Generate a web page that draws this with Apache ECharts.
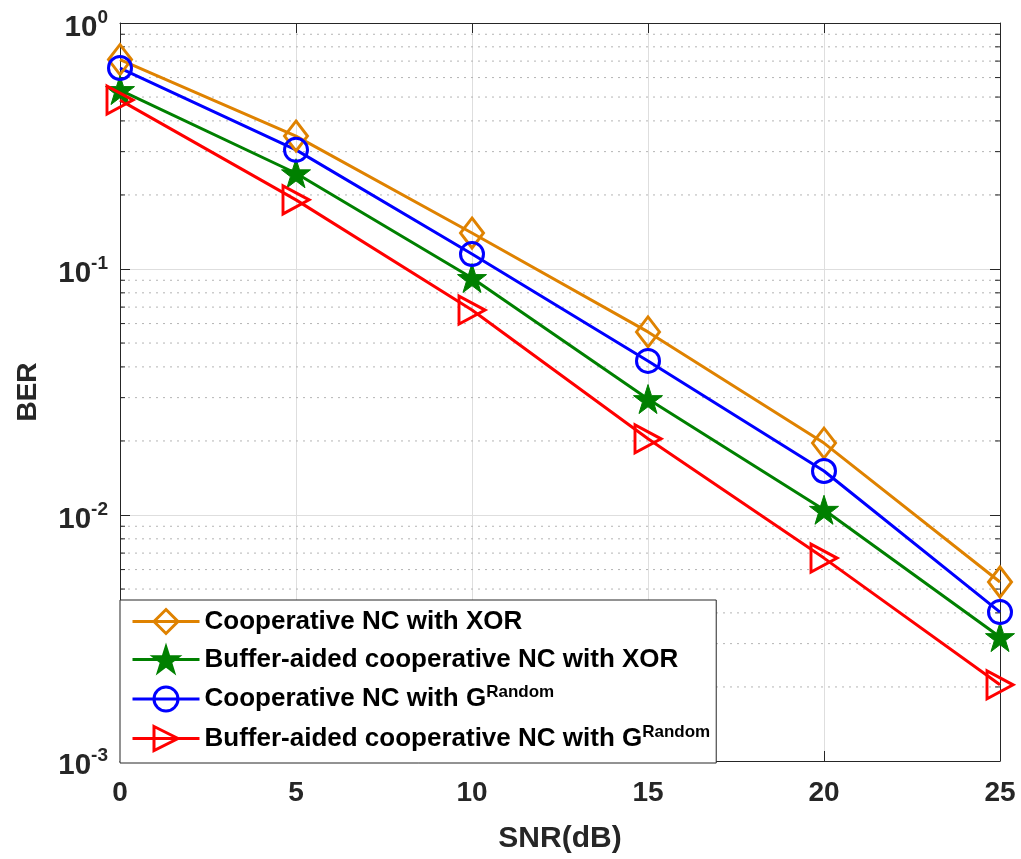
<!DOCTYPE html>
<html>
<head>
<meta charset="utf-8">
<script src="https://cdn.jsdelivr.net/npm/echarts@6/dist/echarts.min.js"></script>
<style>html,body{margin:0;padding:0;background:#fff;}#c{width:1021px;height:859px;}</style>
</head>
<body>
<div id="c"></div>
<script>
const snr = [0, 5, 10, 15, 20, 25];
const xTicks = [0, 5, 10, 15, 20, 25];
const berCoopXor = [0.71, 0.347, 0.140, 0.0555, 0.0196, 0.00534];
const berBufXor = [0.534, 0.245, 0.0919, 0.0296, 0.0105, 0.00319];
const berCoopRand = [0.656, 0.305, 0.115, 0.0423, 0.0151, 0.00403];
const berBufRand = [0.486, 0.191, 0.0681, 0.0204, 0.00668, 0.00204];
const seriesNames = [
  'Cooperative NC with XOR',
  'Buffer-aided cooperative NC with XOR',
  'Cooperative NC with G^Random',
  'Buffer-aided cooperative NC with G^Random'
];
const minorGrid = [0.9, 0.8, 0.7, 0.6, 0.5, 0.4, 0.3, 0.2,
  0.09, 0.08, 0.07, 0.06, 0.05, 0.04, 0.03, 0.02,
  0.009, 0.008, 0.007, 0.006, 0.005, 0.004, 0.003, 0.002];

const FONT = '"Liberation Sans", Arial, Helvetica, sans-serif';
const AX = '#262626';
const chart = echarts.init(document.getElementById('c'));

const starPath = 'path://M50,0 L61.8,35.3 L98.6,35.3 L68.8,57.1 L80.2,92.4 L50,70.6 L19.8,92.4 L31.2,57.1 L1.4,35.3 L38.2,35.3 Z';
const diamondPath = 'path://M50,0 L100,50 L50,100 L0,50 Z';
const triRightPath = 'path://M0,0 L100,50 L0,100 Z';

function pairs(vals) { return snr.map((x, i) => [x, vals[i]]); }

function mkSeries(name, vals, color, symbol, size, filled) {
  return {
    name: name, type: 'line', data: pairs(vals),
    symbol: symbol, symbolSize: size, showSymbol: true,
    z: 5,
    lineStyle: { color: color, width: 3 },
    itemStyle: { color: filled ? color : 'rgba(0,0,0,0)', borderColor: color, borderWidth: filled ? 1 : 3 },
    emphasis: { disabled: true }
  };
}

const option = {
  animation: false,
  backgroundColor: '#fff',
  textStyle: { fontFamily: FONT },
  grid: { left: 120, right: 21, top: 23, bottom: 97 },
  legend: {
    data: seriesNames,
    orient: 'vertical',
    left: 120, top: 600,
    padding: [8, 6, 11, 11],
    itemWidth: 67, itemHeight: 30, itemGap: 11,
    backgroundColor: '#fff',
    borderColor: '#262626', borderWidth: 1,
    lineStyle: { width: 3 },
    itemStyle: { borderWidth: 3 },
    formatter: function (n) {
      if (n.indexOf('^') >= 0) {
        const p = n.split('^');
        return '{t|' + p[0] + '}{s|' + p[1] + '}';
      }
      return '{t|' + n + '}';
    },
    textStyle: {
      fontFamily: FONT, fontWeight: 'bold', color: '#000',
      rich: {
        t: { fontFamily: FONT, fontWeight: 'bold', fontSize: 26, color: '#000', lineHeight: 30 },
        s: { fontFamily: FONT, fontWeight: 'bold', fontSize: 17, color: '#000', verticalAlign: 'top', lineHeight: 14 }
      }
    }
  },
  xAxis: [{
    type: 'value', min: 0, max: 25, interval: 5, position: 'bottom',
    name: 'SNR(dB)', nameLocation: 'middle', nameGap: 63,
    nameTextStyle: { fontFamily: FONT, fontWeight: 'bold', fontSize: 30, color: AX },
    axisLine: { show: true, onZero: false, lineStyle: { color: AX, width: 1 } },
    axisTick: { show: true, inside: true, length: 10, lineStyle: { color: AX } },
    axisLabel: { margin: 18, fontFamily: FONT, fontWeight: 'bold', fontSize: 28, color: AX,
      formatter: function (v) { return xTicks.indexOf(v) >= 0 ? String(v) : ''; } },
    splitLine: { show: true, lineStyle: { color: '#dedede', width: 1 } }
  }, {
    type: 'value', min: 0, max: 25, interval: 5, position: 'top',
    axisLine: { show: true, onZero: false, lineStyle: { color: AX, width: 1 } },
    axisTick: { show: true, inside: true, length: 10, lineStyle: { color: AX } },
    axisLabel: { show: false }, splitLine: { show: false }
  }],
  yAxis: [{
    type: 'log', logBase: 10, min: 0.001, max: 1, position: 'left',
    name: 'BER', nameLocation: 'middle', nameGap: 78,
    nameTextStyle: { fontFamily: FONT, fontWeight: 'bold', fontSize: 28, color: AX },
    axisLine: { show: true, onZero: false, lineStyle: { color: AX, width: 1 } },
    axisTick: { show: true, inside: true, length: 10, lineStyle: { color: AX } },
    axisLabel: {
      margin: 12, fontFamily: FONT, color: AX, padding: [10, 0, 0, 0],
      formatter: function (v) { const e = Math.round(Math.log10(v)); return '{b|10}{s|' + e + '}'; },
      rich: {
        b: { fontFamily: FONT, fontWeight: 'bold', fontSize: 29.5, color: AX, lineHeight: 40 },
        s: { fontFamily: FONT, fontWeight: 'bold', fontSize: 19, color: AX, verticalAlign: 'top', lineHeight: 19 }
      }
    },
    splitLine: { show: true, lineStyle: { color: '#dedede', width: 1 } }
  }, {
    type: 'log', logBase: 10, min: 0.001, max: 1, position: 'right',
    axisLine: { show: true, onZero: false, lineStyle: { color: AX, width: 1 } },
    axisTick: { show: true, inside: true, length: 10, lineStyle: { color: AX } },
    axisLabel: { show: false }, splitLine: { show: false }
  }],
  series: [
    {
      type: 'custom', name: 'minor', z: 1, silent: true,
      xAxisIndex: 0, yAxisIndex: 0,
      data: minorGrid.map(v => [0, v]),
      renderItem: function (params, api) {
        const v = api.value(1);
        const p0 = api.coord([0, v]);
        const p1 = api.coord([25, v]);
        return {
          type: 'group',
          children: [
            { type: 'line', shape: { x1: p0[0] + 1, y1: p0[1], x2: p1[0] - 1, y2: p1[1] },
              style: { stroke: '#b4b4b4', lineWidth: 1, lineDash: [2, 5] } },
            { type: 'line', shape: { x1: p0[0], y1: p0[1], x2: p0[0] + 5, y2: p0[1] },
              style: { stroke: AX, lineWidth: 1 } },
            { type: 'line', shape: { x1: p1[0] - 5, y1: p1[1], x2: p1[0], y2: p1[1] },
              style: { stroke: AX, lineWidth: 1 } }
          ]
        };
      }
    },
    mkSeries(seriesNames[0], berCoopXor, '#DF8200', diamondPath, [23, 30], false),
    mkSeries(seriesNames[1], berBufXor, '#008000', starPath, 29, true),
    mkSeries(seriesNames[2], berCoopRand, '#0000FF', 'circle', 23, false),
    mkSeries(seriesNames[3], berBufRand, '#FF0000', triRightPath, [26, 28], false)
  ]
};
chart.setOption(option);
</script>
</body>
</html>
